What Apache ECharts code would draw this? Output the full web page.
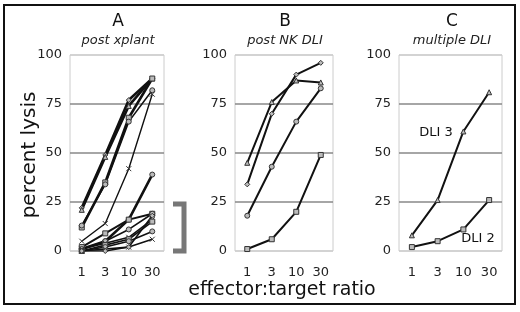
<!DOCTYPE html>
<html>
<head>
<meta charset="utf-8">
<script src="https://cdn.jsdelivr.net/npm/echarts@6/dist/echarts.min.js"></script>
<style>
  html, body { margin: 0; padding: 0; background: #fff; }
  #main { width: 520px; height: 312px; }
</style>
</head>
<body>
<div id="main"></div>
<script>
// effector:target ratios
var ratios = ['1', '3', '10', '30'];
var yTicks = [0, 25, 50, 75, 100];

// panel A - post xplant
var postXplant = [
  [22, 49, 77, 88],
  [21, 48, 74, 88],
  [12, 35, 68, 88],
  [13, 34, 66, 82],
  [5, 14, 42, 80],
  [1, 5, 16, 39],
  [2, 9, 16, 19],
  [1, 5, 11, 19],
  [1, 4, 7, 16],
  [0, 3, 6, 15],
  [0, 2, 5, 10],
  [0, 1, 2, 6],
  [0, 0, 2, 18]
];
var xplantSymbols = ['diamond', 'triangle', 'rect', 'circle', 'x', 'circle', 'rect', 'circle', 'x', 'rect', 'circle', 'x', 'diamond'];
var xplantWidths = [2.6, 2.6, 2.6, 1.6, 1.4, 2.6, 2, 1.6, 1.6, 1.6, 1.6, 1.6, 1.6];

// panel B - post NK DLI
var postNkDli = [
  [34, 70, 90, 96],
  [45, 76, 87, 86],
  [18, 43, 66, 83],
  [1, 6, 20, 49]
];
var nkSymbols = ['diamond', 'triangle', 'circle', 'rect'];

// panel C - multiple DLI
var dli3 = [8, 26, 61, 81];
var dli2 = [2, 5, 11, 26];

var xPath = 'path://M0,0L10,10M10,0L0,10';
function sym(s) { return s === 'x' ? xPath : s; }

var chart = echarts.init(document.getElementById('main'));
var font = 'DejaVu Sans';

var grids = [
  { left: 70, top: 55, width: 94, height: 196 },
  { left: 235, top: 55, width: 98, height: 196 },
  { left: 399, top: 55, width: 103, height: 196 }
];

function xAx(i) {
  return {
    type: 'category', gridIndex: i, data: ratios,
    axisLine: { show: false }, axisTick: { show: false },
    axisLabel: { fontFamily: font, fontSize: 13, color: '#222', margin: 15 }
  };
}
function yAx(i) {
  return {
    type: 'value', gridIndex: i, min: 0, max: 100, interval: 25,
    axisLine: { show: false }, axisTick: { show: false },
    axisLabel: { fontFamily: font, fontSize: 13, color: '#222', margin: 8 },
    splitLine: { lineStyle: { color: ['#ccc', '#888', '#888', '#888', '#ccc'], width: 1.5 } }
  };
}

function line(name, data, idx, symbol, width) {
  return {
    name: name, type: 'line', xAxisIndex: idx, yAxisIndex: idx, data: data,
    symbol: sym(symbol), symbolSize: 5, showSymbol: true,
    lineStyle: { color: '#111', width: width },
    itemStyle: { color: '#bbb', borderColor: '#333', borderWidth: 1 },
    emphasis: { disabled: true }, animation: false
  };
}

var series = [];
postXplant.forEach(function (d, i) {
  series.push(line('A' + (i + 1), d, 0, xplantSymbols[i], xplantWidths[i]));
});
postNkDli.forEach(function (d, i) {
  series.push(line('B' + (i + 1), d, 1, nkSymbols[i], 2));
});
series.push(line('DLI 3', dli3, 2, 'triangle', 2));
series.push(line('DLI 2', dli2, 2, 'rect', 2));

var titleStyle = { fontFamily: font, fontSize: 17, color: '#111', fontWeight: 'normal' };
var subStyle = { fontFamily: font, fontSize: 13, color: '#222', fontStyle: 'italic' };

option = {
  backgroundColor: '#fff',
  animation: false,
  title: [
    { text: 'A', subtext: 'post xplant', left: 113, top: 8, textAlign: 'center', itemGap: 4, textStyle: titleStyle, subtextStyle: subStyle },
    { text: 'B', subtext: 'post NK DLI', left: 280, top: 8, textAlign: 'center', itemGap: 4, textStyle: titleStyle, subtextStyle: subStyle },
    { text: 'C', subtext: 'multiple DLI', left: 447, top: 8, textAlign: 'center', itemGap: 4, textStyle: titleStyle, subtextStyle: subStyle }
  ],
  grid: grids.map(function (g) {
    return Object.assign({ show: true, borderColor: '#ccc', borderWidth: 1, backgroundColor: '#fff' }, g);
  }),
  xAxis: [xAx(0), xAx(1), xAx(2)],
  yAxis: [yAx(0), yAx(1), yAx(2)],
  series: series,
  graphic: [
    { type: 'rect', shape: { x: 4, y: 5, width: 511, height: 299 }, style: { fill: 'none', stroke: '#111', lineWidth: 2 } },
    { type: 'polyline', shape: { points: [[173, 204], [184, 204], [184, 251], [173, 251]] },
      style: { fill: 'none', stroke: '#777', lineWidth: 5 } },
    { type: 'text', rotation: Math.PI / 2, x: 30, y: 155, style: { text: 'percent lysis', font: '20px DejaVu Sans', fill: '#111', textAlign: 'center', textVerticalAlign: 'middle' } },
    { type: 'text', x: 282, y: 290, style: { text: 'effector:target ratio', font: '19px DejaVu Sans', fill: '#111', textAlign: 'center', textVerticalAlign: 'middle' } },
    { type: 'text', x: 436, y: 133, style: { text: 'DLI 3', font: '13px DejaVu Sans', fill: '#111', textAlign: 'center', textVerticalAlign: 'middle' } },
    { type: 'text', x: 478, y: 239, style: { text: 'DLI 2', font: '13px DejaVu Sans', fill: '#111', textAlign: 'center', textVerticalAlign: 'middle' } }
  ]
};
chart.setOption(option);
</script>
</body>
</html>
